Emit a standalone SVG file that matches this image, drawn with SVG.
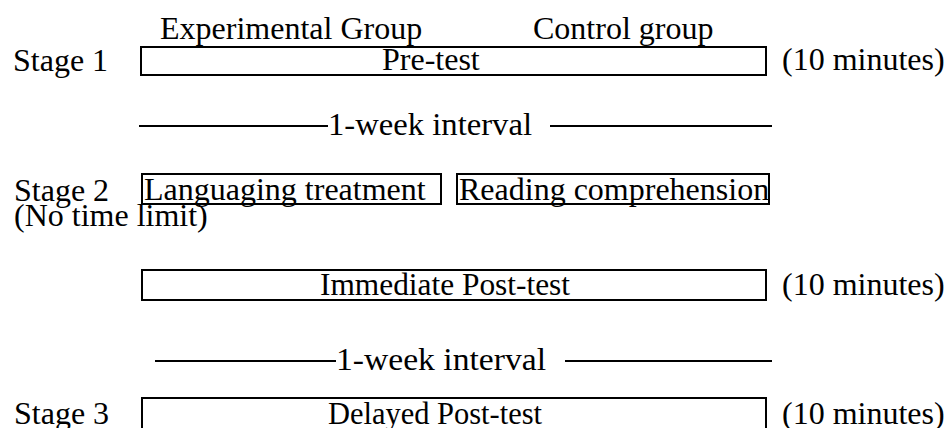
<svg xmlns="http://www.w3.org/2000/svg" width="950" height="428" viewBox="0 0 950 428">
<style>
text{font-family:"Liberation Serif","Times New Roman",serif;font-size:32px;fill:#000}
.box{fill:#fff;stroke:#000;stroke-width:2}
.ln{stroke:#000;stroke-width:2}
</style>
<rect width="950" height="428" fill="#fff"/>
<g id="headers">
<text x="160" y="39">Experimental Group</text>
<text x="533" y="39">Control group</text>
</g>
<g id="stage1">
<text x="13" y="71">Stage 1</text>
<rect class="box" x="141" y="47" width="625" height="28"/>
<text x="382" y="70">Pre-test</text>
<text x="782" y="70">(10 minutes)</text>
</g>
<g id="connectors">
<line class="ln" x1="139" y1="126" x2="328" y2="126"/>
<text x="328" y="135" textLength="204" lengthAdjust="spacingAndGlyphs">1-week interval</text>
<line class="ln" x1="550" y1="126" x2="772" y2="126"/>
<line class="ln" x1="155" y1="361" x2="336" y2="361"/>
<text x="336" y="370" textLength="210" lengthAdjust="spacingAndGlyphs">1-week interval</text>
<line class="ln" x1="565" y1="361" x2="772" y2="361"/>
</g>
<g id="stage2">
<text x="14" y="201">Stage 2</text>
<text x="14" y="226">(No time limit)</text>
</g>
<g id="languaging">
<rect class="box" x="142" y="174" width="299" height="30"/>
<text x="144" y="200">Languaging treatment</text>
</g>
<g id="reading">
<rect class="box" x="457" y="174" width="312" height="30"/>
<text x="459" y="200">Reading comprehension</text>
</g>
<g id="immediate">
<rect class="box" x="142" y="270" width="624" height="30"/>
<text x="320" y="295" textLength="250" lengthAdjust="spacingAndGlyphs">Immediate Post-test</text>
<text x="782" y="295">(10 minutes)</text>
</g>
<g id="stage3">
<text x="14" y="424">Stage 3</text>
<rect class="box" x="142" y="398" width="624" height="40"/>
<text x="328" y="424" textLength="214" lengthAdjust="spacingAndGlyphs">Delayed Post-test</text>
<text x="782" y="424">(10 minutes)</text>
</g>
</svg>
